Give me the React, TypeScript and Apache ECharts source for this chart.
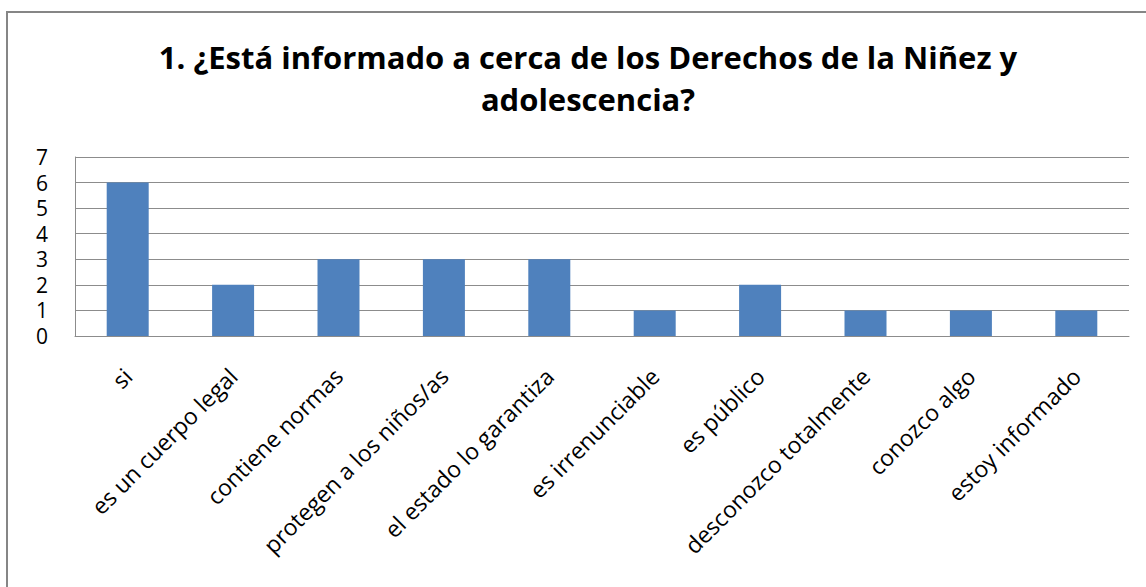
import React, { useEffect, useRef } from "react";
import * as echarts from "echarts";

const titleLines = [
  "1. ¿Está informado a cerca de los Derechos de la Niñez y",
  "adolescencia?",
];
const categories = [
  "si",
  "es un cuerpo legal",
  "contiene normas",
  "protegen a los niños/as",
  "el estado lo garantiza",
  "es irrenunciable",
  "es público",
  "desconozco totalmente",
  "conozco algo",
  "estoy informado",
];
const values = [6, 2, 3, 3, 3, 1, 2, 1, 1, 1];
const yTicks = [0, 1, 2, 3, 4, 5, 6, 7];

export default function App() {
  const ref = useRef<HTMLDivElement>(null);
  useEffect(() => {
    if (!ref.current) return;
    const chart = echarts.init(ref.current, undefined, { renderer: "svg" });
    const font = "'Open Sans', Lato, sans-serif";
    chart.setOption({
      animation: false,
      backgroundColor: "#ffffff",
      title: {
        text: titleLines.join("\n"),
        left: 583,
        top: 31,
        textAlign: "center",
        textStyle: {
          fontFamily: font,
          fontSize: 31,
          fontWeight: "bold",
          color: "#000",
          lineHeight: 42,
        },
      },
      graphic: [
        {
          type: "rect",
          shape: { x: 7, y: 12, width: 1200, height: 700 },
          style: { fill: "none", stroke: "#868686", lineWidth: 2 },
          silent: true,
        },
      ],
      grid: { left: 75, right: 17, top: 157, bottom: 251, containLabel: false },
      xAxis: {
        type: "category",
        data: categories,
        axisLine: { show: true, lineStyle: { color: "#8c8c8c", width: 1 } },
        axisTick: { show: false },
        axisLabel: {
          rotate: 45,
          interval: 0,
          margin: 36,
          fontFamily: font,
          fontSize: 23,
          color: "#000",
        },
      },
      yAxis: {
        type: "value",
        min: yTicks[0],
        max: yTicks[yTicks.length - 1],
        interval: 1,
        axisLine: { show: true, lineStyle: { color: "#8c8c8c", width: 1 } },
        axisTick: { show: false },
        splitLine: { show: true, lineStyle: { color: "#8c8c8c", width: 1 } },
        axisLabel: {
          margin: 27,
          fontFamily: font,
          fontSize: 21,
          lineHeight: 21,
          color: "#000",
        },
      },
      series: [
        {
          type: "bar",
          data: values,
          barWidth: 42,
          itemStyle: { color: "#4F81BD" },
        },
      ],
    });
    return () => chart.dispose();
  }, []);
  return (
    <div
      ref={ref}
      style={{ position: "fixed", left: 0, top: 0, width: 1146, height: 587 }}
    />
  );
}
